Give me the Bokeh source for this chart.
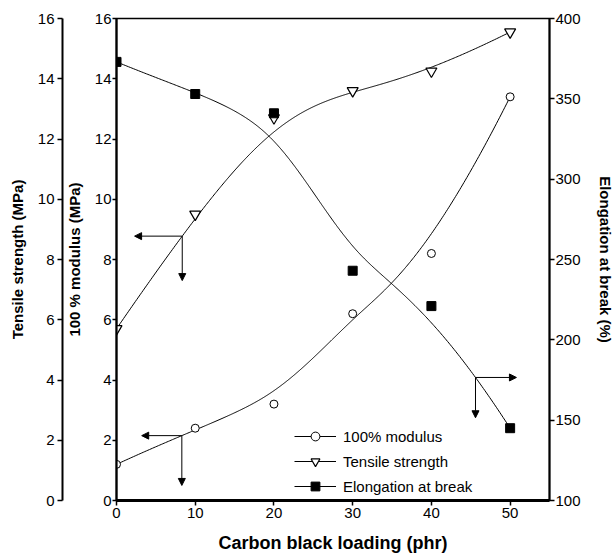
import numpy as np
from bokeh.plotting import figure
from bokeh.models import (LinearAxis, Range1d, FixedTicker, Legend, LegendItem,
                          Arrow, NormalHead)
from bokeh.embed import file_html
from bokeh.resources import INLINE

# ---- data ----
loading = [0, 10, 20, 30, 40, 50]
modulus = [1.2, 2.4, 3.2, 6.2, 8.2, 13.4]          # 100% modulus (MPa)
tensile = [5.7, 9.5, 12.7, 13.6, 14.25, 15.55]     # tensile strength (MPa)
elongation = [373, 353, 341, 243, 221, 145]        # elongation at break (%)

x_ticks = [0, 10, 20, 30, 40, 50]
mpa_ticks = [0, 2, 4, 6, 8, 10, 12, 14, 16]
elong_ticks = [100, 150, 200, 250, 300, 350, 400]

series_labels = ["100% modulus", "Tensile strength", "Elongation at break"]
x_title = "Carbon black loading (phr)"
y_title_inner = "100 % modulus (MPa)"
y_title_outer = "Tensile strength (MPa)"
y_title_right = "Elongation at break (%)"

# indicator arrows: (x on curve, horizontal arrow end x, vertical arrow end y)
arrow_tensile = (8.35, 2.3, 7.3)
arrow_modulus = (8.3, 3.2, 0.5)
arrow_elong = (45.6, 50.8, 151.5)

FONT = "Liberation Sans"


def bspline(xc, yc, n=400, k=3):
    """Clamped uniform B-spline using the data points as control points."""
    xc = np.asarray(xc, float)
    yc = np.asarray(yc, float)
    m = len(xc)
    knots = np.concatenate([np.zeros(k), np.linspace(0, 1, m - k + 1), np.ones(k)])
    t = np.linspace(0, 1, n)
    N = np.zeros((len(knots) - 1, n))
    for i in range(len(knots) - 1):
        N[i] = ((knots[i] <= t) & (t < knots[i + 1])).astype(float)
    last = np.max(np.nonzero(knots[:-1] < knots[1:])[0])
    N[last, -1] = 1.0
    for d in range(1, k + 1):
        Nn = np.zeros((len(knots) - 1 - d, n))
        for i in range(len(knots) - 1 - d):
            a = knots[i + d] - knots[i]
            b = knots[i + d + 1] - knots[i + 1]
            term = np.zeros(n)
            if a > 0:
                term += (t - knots[i]) / a * N[i]
            if b > 0:
                term += (knots[i + d + 1] - t) / b * N[i + 1]
            Nn[i] = term
        N = Nn
    return N.T @ xc, N.T @ yc


bx_mod, by_mod = bspline(loading, modulus)
bx_ten, by_ten = bspline(loading, tensile)
bx_elo, by_elo = bspline(loading, elongation)

p = figure(width=616, height=558, x_range=Range1d(0, 55), y_range=Range1d(0, 16),
           output_backend="svg", toolbar_location=None,
           min_border_left=116, min_border_right=64, min_border_top=18, min_border_bottom=58)
p.extra_y_ranges = {"elong": Range1d(100, 400)}
p.grid.visible = False
p.outline_line_color = "black"
p.outline_line_width = 1.5
p.background_fill_color = "white"
p.border_fill_color = "white"


def style_axis(ax, tick_out, standoff, label_standoff, lw, title_size="15px"):
    ax.minor_tick_line_color = None
    ax.major_tick_in = 0
    ax.major_tick_out = tick_out
    ax.major_tick_line_width = 1.5
    ax.major_tick_line_color = "black"
    ax.axis_line_width = lw
    ax.axis_line_color = "black"
    ax.major_label_standoff = standoff
    ax.major_label_text_font = FONT
    ax.major_label_text_font_size = "15px"
    ax.major_label_text_color = "black"
    ax.axis_label_text_font = FONT
    ax.axis_label_text_font_style = "bold"
    ax.axis_label_text_font_size = title_size
    ax.axis_label_text_color = "black"
    ax.axis_label_standoff = label_standoff


# x axis
xa = p.xaxis[0]
xa.ticker = FixedTicker(ticks=x_ticks)
xa.axis_label = x_title
style_axis(xa, 5, 2, 12, 3, "18px")

# inner left axis: 100 % modulus
ya = p.yaxis[0]
ya.ticker = FixedTicker(ticks=mpa_ticks)
ya.axis_label = y_title_inner
style_axis(ya, 4, 1, 9, 2.2)

# outer left axis: tensile strength
ya2 = LinearAxis(ticker=FixedTicker(ticks=mpa_ticks), axis_label=y_title_outer)
style_axis(ya2, 5, 3, 9, 2)
p.add_layout(ya2, "left")

# right axis: elongation
yr = LinearAxis(y_range_name="elong", ticker=FixedTicker(ticks=elong_ticks),
                axis_label=y_title_right)
style_axis(yr, 5, 1, 13, 2)
p.add_layout(yr, "right")

# curves and markers
l_mod = p.line(bx_mod, by_mod, line_color="black", line_width=1)
l_ten = p.line(bx_ten, by_ten, line_color="black", line_width=1)
l_elo = p.line(bx_elo, by_elo, line_color="black", line_width=1, y_range_name="elong")

s_mod = p.scatter(loading, modulus, marker="circle", size=8, fill_color="white",
                  line_color="black", line_width=1)
s_ten = p.scatter(loading, tensile, marker="inverted_triangle", size=11, fill_color="white",
                  line_color="black", line_width=1.2)
s_elo = p.scatter(loading, elongation, marker="square", size=9, fill_color="black",
                  line_color="black", y_range_name="elong")


def add_corner_arrows(cx, hx, vy, bx, by, rng="default"):
    cy = float(np.interp(cx, bx, by))
    for (xe, ye) in [(hx, cy), (cx, vy)]:
        p.add_layout(Arrow(end=NormalHead(size=7, fill_color="black", line_color="black",
                                          line_width=1),
                           x_start=cx, y_start=cy, x_end=xe, y_end=ye,
                           line_color="black", line_width=1, y_range_name=rng))


add_corner_arrows(*arrow_tensile, bx_ten, by_ten)
add_corner_arrows(*arrow_modulus, bx_mod, by_mod)
add_corner_arrows(*arrow_elong, bx_elo, by_elo, "elong")

legend = Legend(items=[
    LegendItem(label=series_labels[0], renderers=[l_mod, s_mod]),
    LegendItem(label=series_labels[1], renderers=[l_ten, s_ten]),
    LegendItem(label=series_labels[2], renderers=[l_elo, s_elo]),
], location=(178, 3))
legend.glyph_width = 42
legend.glyph_height = 22
legend.label_height = 22
legend.spacing = 3
legend.padding = 2
legend.margin = 0
legend.label_standoff = 7
legend.label_text_font = FONT
legend.label_text_font_size = "15px"
legend.label_text_color = "black"
legend.border_line_color = None
legend.background_fill_alpha = 0
p.add_layout(legend)

open("out.html", "w").write(file_html(p, INLINE))
